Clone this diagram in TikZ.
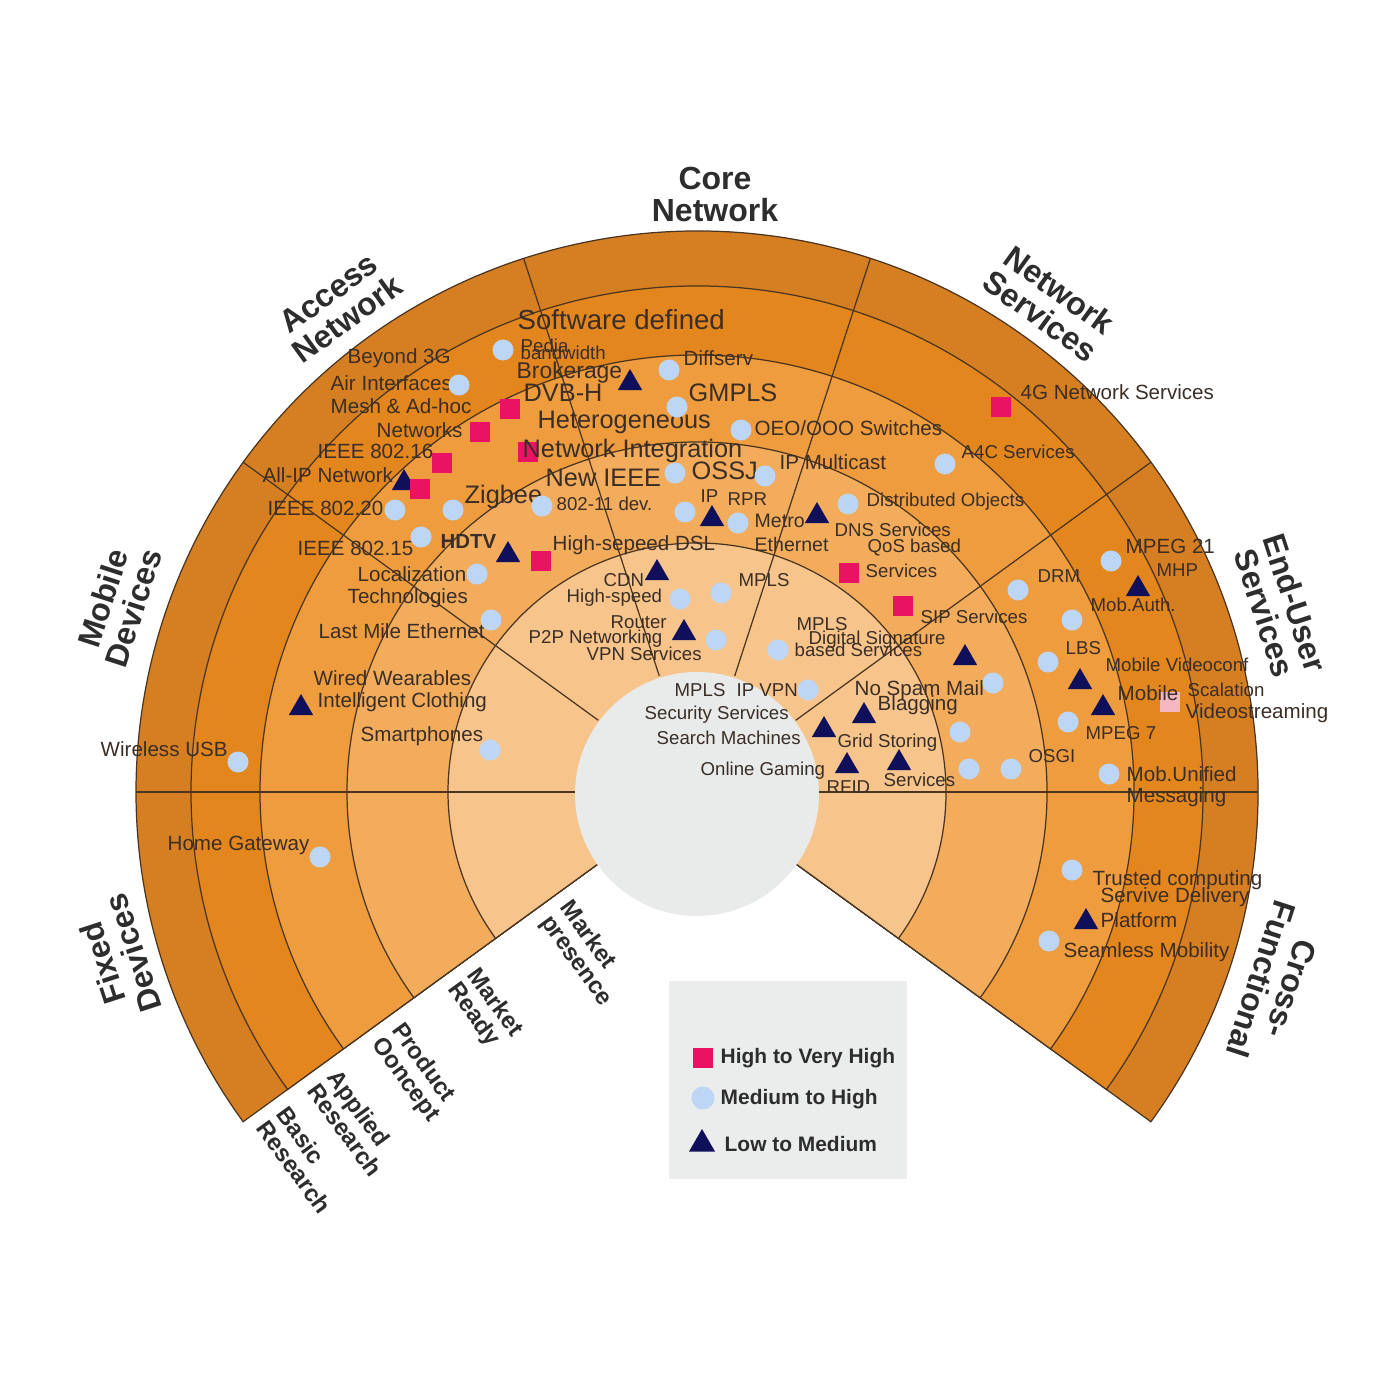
\documentclass[tikz,border=0pt]{standalone}
\usepackage{fontspec}
\setmainfont{Liberation Sans}
\usepackage{tikz}
\usetikzlibrary{shapes.geometric}

\definecolor{ringA}{HTML}{D67F22}
\definecolor{ringB}{HTML}{E3861E}
\definecolor{ringC}{HTML}{EE9C3E}
\definecolor{ringD}{HTML}{F2AC5C}
\definecolor{ringE}{HTML}{F7C48C}
\definecolor{hubC}{HTML}{E9EBEB}
\definecolor{edgeC}{HTML}{4A3520}
\definecolor{hiC}{HTML}{EA1262}
\definecolor{medC}{HTML}{BDD6F6}
\definecolor{lowC}{HTML}{10105A}
\definecolor{paleC}{HTML}{F5B8C2}
\definecolor{legC}{HTML}{EBEDED}
\definecolor{txtC}{HTML}{3A2E26}
\definecolor{ttlC}{HTML}{2D2D2D}

\begin{document}
\begin{tikzpicture}[x=0.01cm,y=-0.01cm,
  every node/.style={inner sep=0pt},
  labA/.style={anchor=west,text=txtC,font=\fontsize{5.85}{6.5}\selectfont},
  labS/.style={labA,font=\fontsize{5.3}{6}\selectfont},
  labM/.style={labA,font=\fontsize{6.5}{7}\selectfont},
  labB/.style={labA,font=\fontsize{7.2}{8}\selectfont},
  labH/.style={labA,font=\bfseries\fontsize{5.8}{6.5}\selectfont},
  keytext/.style={anchor=west,text=ttlC,font=\bfseries\fontsize{5.95}{6.5}\selectfont},
  sectorname/.style={align=center,text=ttlC,font=\bfseries\fontsize{9.1}{9.1}\selectfont},
  ringname/.style={align=left,anchor=west,rotate=-54,text=ttlC,font=\bfseries\fontsize{6.8}{6.8}\selectfont},
  hiSq/.style={rectangle,fill=hiC,minimum size=0.2cm},
  medDot/.style={circle,fill=medC,minimum size=0.21cm},
  lowTri/.style={regular polygon,regular polygon sides=3,fill=lowC,minimum size=0.28cm}]
\useasboundingbox (0,0) rectangle (1400,1400);

% Rings of the fan
\begin{scope}[shift={(697,792)},x=0.01cm,y=0.01cm]
  \foreach \r/\c in {561/ringA,506/ringB,437/ringC,350/ringD,249/ringE}
    \filldraw[fill=\c,draw=edgeC,line width=0.35pt] (0,0) -- (-36:\r) arc[start angle=-36,end angle=216,radius=\r] -- cycle;
  \fill[hubC] (0,-2) circle[radius=122];
  % Sector dividers
  \foreach \a in {0,36,...,180}
    \draw[edgeC,line width=0.35pt] (\a:122) -- (\a:561);
  % Ring names
  \foreach \r/\t in {534/{Basic\\Research},471/{Applied\\Research},393/{Product\\Ooncept},300/{Market\\Ready},185/{Market\\presence}}
    \node[ringname] (rn\r) at ({-0.809*\r+7},{-0.588*\r-10}) {\t};
\end{scope}

% Sector names
\node[sectorname] (core) at (715,194) {Core\\Network};
\node[sectorname,rotate=36] (access) at (338,306) {Access\\Network};
\node[sectorname,rotate=-36] (netserv) at (1050,303) {Network\\Services};
\node[sectorname,rotate=-72] (enduser) at (1280,608) {End-User\\Services};
\node[sectorname,rotate=72] (mobdev) at (118,603) {Mobile\\Devices};
\node[sectorname,rotate=108] (fixdev) at (118,958) {Fixed\\Devices};
\node[sectorname,rotate=-108] (crossf) at (1276,984) {Cross-\\Functional};

% Access network and devices
\node[labA] (beyond) at (347,358) {Beyond 3G};
\node[labA] (airint) at (330,383) {Air Interfaces};
\node[medDot] (dairint) at (459,385) {};
\node[labA] (mesh) at (330,406) {Mesh \& Ad-hoc};
\node[labA] (netws) at (376,430) {Networks};
\node[hiSq] (dmesh) at (480,432) {};
\node[labA] (ieeeA) at (317,451) {IEEE 802.16};
\node[hiSq] (dieeeA) at (442,463) {};
\node[labA] (allip) at (262,475) {All-IP Network};
\node[lowTri] (dallip) at (404,483) {};
\node[hiSq] (dallipB) at (420,489) {};
\node[labA] (ieeeB) at (267,508) {IEEE 802.20};
\node[medDot] (dieeeB) at (395,510) {};
\node[medDot] (dzig) at (453,510) {};
\node[labB] (zigbee) at (464,497) {Zigbee};
\node[medDot] (ddev) at (542,506) {};
\node[labS] (dev) at (556,504) {802-11 dev.};
\node[labB] (newieee) at (545,478) {New IEEE};
\node[labA] (ieeeC) at (297,548) {IEEE 802.15};
\node[medDot] (dieeeC) at (421,537) {};
\node[labH] (hdtv) at (440,541) {HDTV};
\node[lowTri] (dhdtv) at (508,555) {};
\node[hiSq] (ddsl) at (541,561) {};
\node[labA] (dsl) at (552,545) {High-sepeed DSL};
\node[labA] (local) at (357,574) {Localization};
\node[labA] (techn) at (347,598) {Technologies};
\node[medDot] (dlocal) at (477,574) {};
\node[labA] (lastmile) at (318,631) {Last Mile Ethernet};
\node[medDot] (dlastmile) at (491,620) {};
\node[labA] (wired) at (313,678) {Wired Wearables};
\node[labA] (cloth) at (317,702) {Intelligent Clothing};
\node[lowTri] (dcloth) at (301,708) {};
\node[labA] (smart) at (360,736) {Smartphones};
\node[medDot] (dsmart) at (490,750) {};
\node[labA] (wusb) at (100,749) {Wireless USB};
\node[medDot] (dwusb) at (238,762) {};
\node[labA] (homegw) at (167,845) {Home Gateway};
\node[medDot] (dhomegw) at (320,857) {};

% Core network
\node[labA,font=\fontsize{7.85}{8.5}\selectfont] (softdef) at (517,320) {Software defined};
\node[medDot] (dpedia) at (503,350) {};
\node[labS] (pedia) at (520,346) {Pedia};
\node[labS] (bandw) at (520,353) {bandwidth};
\node[labM] (broker) at (516,373) {Brokerage};
\node[lowTri] (dbroker) at (630,383) {};
\node[labB] (dvbh) at (523,393) {DVB-H};
\node[hiSq] (ddvbh) at (510,409) {};
\node[labB] (hetero) at (537,422) {Heterogeneous};
\node[hiSq] (dnetint) at (528,452) {};
\node[labB] (netint) at (522,451) {Network Integration};
\node[medDot] (ddiff) at (669,370) {};
\node[labA] (diffserv) at (683,358) {Diffserv};
\node[labB] (gmpls) at (688,393) {GMPLS};
\node[medDot] (dgmpls) at (677,407) {};
\node[medDot] (doeo) at (741,430) {};
\node[labA] (oeo) at (754,428) {OEO/OOO Switches};
\node[medDot] (dossj) at (675,473) {};
\node[labB] (ossj) at (691,471) {OSSJ};
\node[medDot] (dmcast) at (765,476) {};
\node[labA] (mcast) at (779,462) {IP Multicast};
\node[labS] (ip) at (700,496) {IP};
\node[labS] (rpr) at (727,499) {RPR};
\node[medDot] (dip) at (685,512) {};
\node[lowTri] (drpr) at (712,519) {};
\node[medDot] (dmetro) at (738,523) {};
\node[labS,font=\fontsize{5.55}{6}\selectfont] (metro) at (754,521) {Metro};
\node[labS,font=\fontsize{5.55}{6}\selectfont] (ether) at (754,545) {Ethernet};
\node[lowTri] (ddns) at (817,516) {};
\node[medDot] (ddist) at (848,504) {};
\node[labS] (dist) at (866,502) {Distributed Objects};
\node[labS] (dns) at (834,530) {DNS Services};
\node[labS] (qos) at (867,548) {QoS based};
\node[hiSq] (dqos) at (849,573) {};
\node[labS] (qosserv) at (865,571) {Services};
\node[hiSq] (dsip) at (903,606) {};
\node[labS] (sip) at (920,617) {SIP Services};

% Market presence
\node[labS] (cdn) at (603,580) {CDN};
\node[lowTri] (dcdn) at (657,573) {};
\node[labS] (hspeed) at (566,598) {High-speed};
\node[medDot] (dhspeed) at (680,599) {};
\node[medDot] (dmplsA) at (721,593) {};
\node[labS] (mplsA) at (738,580) {MPLS};
\node[labS] (router) at (610,622) {Router};
\node[lowTri] (drouter) at (684,633) {};
\node[labS] (ptwop) at (528,639) {P2P Networking};
\node[labS] (vpn) at (586,654) {VPN Services};
\node[medDot] (dvpn) at (716,640) {};
\node[labS] (mplsB) at (796,624) {MPLS};
\node[labS] (digsig) at (808,640) {Digital Signature};
\node[medDot] (ddigsig) at (778,650) {};
\node[labS] (based) at (794,650) {based Services};
\node[lowTri] (dsipB) at (965,658) {};
\node[labS] (mplsC) at (674,690) {MPLS};
\node[labS] (ipvpn) at (736,690) {IP VPN};
\node[medDot] (dipvpn) at (808,690) {};
\node[labS] (secserv) at (644,715) {Security Services};
\node[labS] (search) at (656,738) {Search Machines};
\node[labS] (gaming) at (700,771) {Online Gaming};
\node[labA] (nospam) at (854,690) {No Spam Mail};
\node[medDot] (dnospam) at (993,683) {};
\node[labA] (blag) at (877,705) {Blagging};
\node[lowTri] (dblag) at (864,716) {};
\node[lowTri] (dsearch) at (824,730) {};
\node[medDot] (dgridA) at (960,732) {};
\node[labS] (grid) at (837,743) {Grid Storing};
\node[lowTri] (drfid) at (847,766) {};
\node[labS] (rfid) at (826,787) {RFID};
\node[lowTri] (dgrid) at (899,763) {};
\node[labS] (gridserv) at (883,780) {Services};
\node[medDot] (dosgiA) at (969,769) {};
\node[medDot] (dosgiB) at (1011,769) {};
\node[labS] (osgi) at (1028,756) {OSGI};

% Network services
\node[hiSq] (dfourg) at (1001,407) {};
\node[labA] (fourg) at (1020,392) {4G Network Services};
\node[medDot] (dafour) at (945,464) {};
\node[labS] (afour) at (961,452) {A4C Services};

% End-user services
\node[medDot] (dmpegA) at (1111,561) {};
\node[labA] (mpegA) at (1125,546) {MPEG 21};
\node[lowTri] (dmhp) at (1138,589) {};
\node[labS] (mhp) at (1156,570) {MHP};
\node[medDot] (ddrm) at (1018,590) {};
\node[labS] (drm) at (1037,576) {DRM};
\node[medDot] (dmobauth) at (1072,620) {};
\node[labS] (mobauth) at (1090,605) {Mob.Auth.};
\node[medDot] (dlbs) at (1048,662) {};
\node[labS] (lbs) at (1065,648) {LBS};
\node[labS] (vconf) at (1105,665) {Mobile Videoconf};
\node[lowTri] (dvconf) at (1080,682) {};
\node[lowTri] (dmobile) at (1103,708) {};
\node[hiSq,fill=paleC] (dscal) at (1170,702) {};
\node[labA] (mobile) at (1117,693) {Mobile};
\node[labS] (scal) at (1187,690) {Scalation};
\node[labA] (vstream) at (1185,713) {Videostreaming};
\node[medDot] (dmpegB) at (1068,722) {};
\node[labS] (mpegB) at (1085,733) {MPEG 7};
\node[medDot] (dunif) at (1109,774) {};
\node[labA] (unif) at (1126,774) {Mob.Unified};
\node[labA] (messag) at (1126,797) {Messaging};

% Cross-functional
\node[medDot] (dtrust) at (1072,870) {};
\node[labA] (trust) at (1092,880) {Trusted computing};
\node[labA] (servdel) at (1100,897) {Servive Delivery};
\node[lowTri] (dplat) at (1086,922) {};
\node[labA] (plat) at (1100,920) {Platform};
\node[medDot] (dseam) at (1049,941) {};
\node[labA] (seam) at (1063,952) {Seamless Mobility};

% Legend
\node[fill=legC,minimum width=2.38cm,minimum height=1.98cm,anchor=north west] (legend) at (668,980) {};
\node[hiSq] (khi) at (703,1058) {};
\node[keytext] (thi) at (720,1058) {High to Very High};
\node[medDot,minimum size=0.23cm] (kmed) at (703,1098) {};
\node[keytext] (tmed) at (720,1099) {Medium to High};
\node[lowTri,minimum size=0.3cm] (klow) at (702,1144) {};
\node[keytext] (tlow) at (724,1144) {Low to Medium};
\end{tikzpicture}
\end{document}
